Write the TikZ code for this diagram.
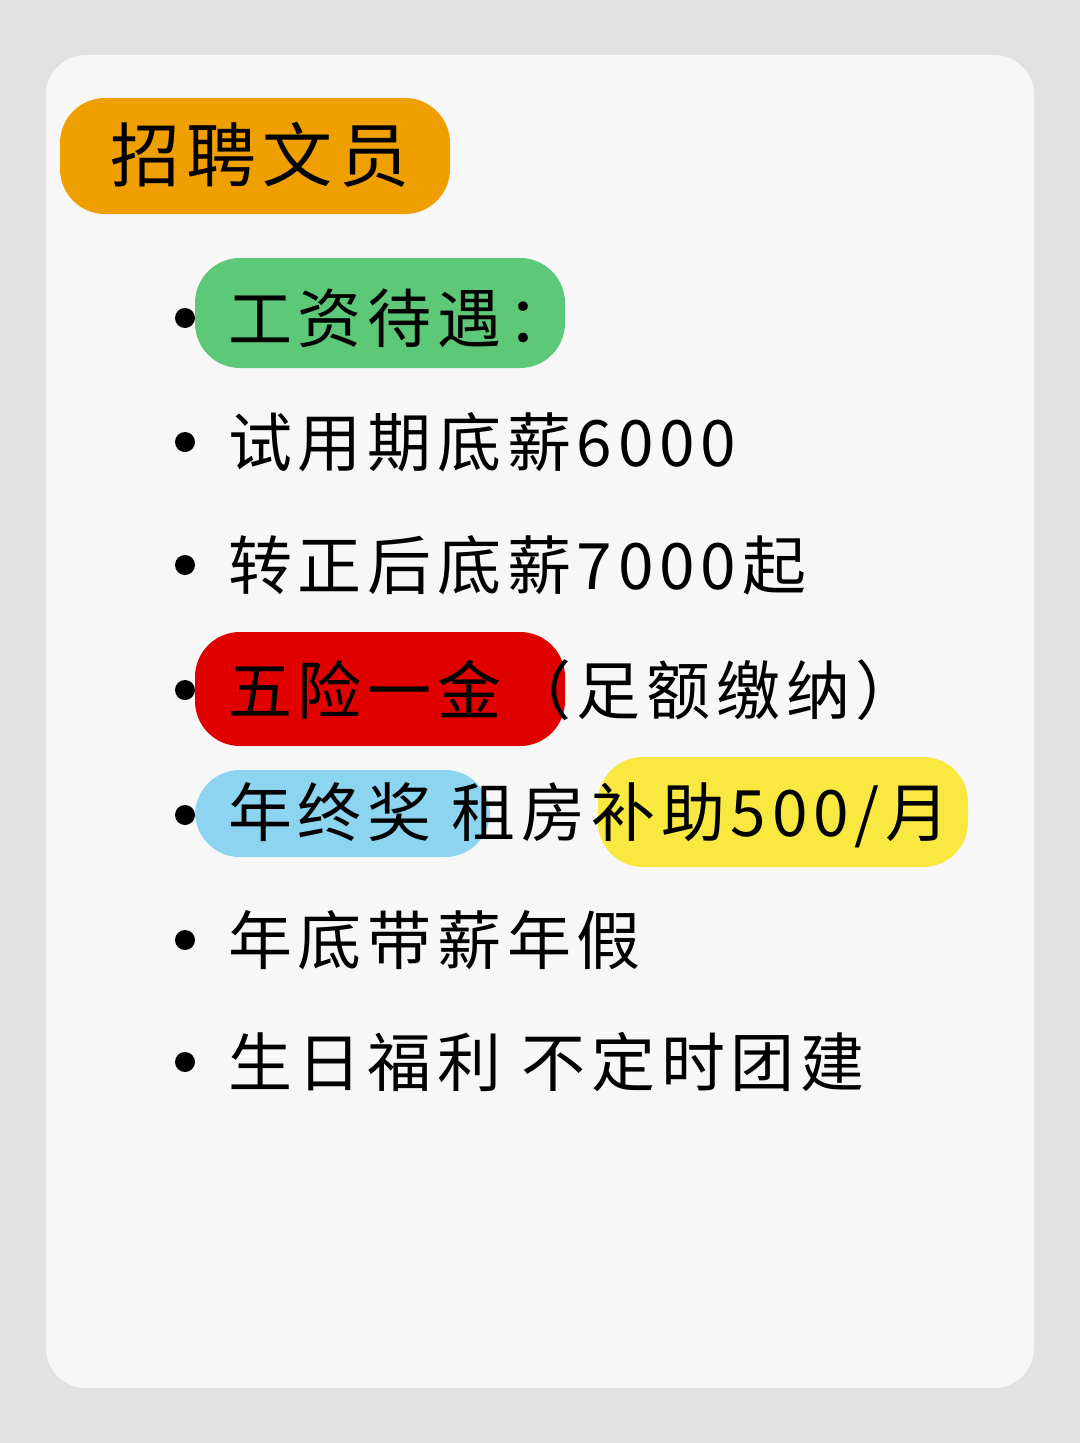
\documentclass[tikz,border=0pt]{standalone}
\usepackage{fontspec}
\setmainfont{Noto Sans CJK SC}[LetterSpace=9]
\definecolor{bg}{HTML}{E2E2E2}
\definecolor{card}{HTML}{F7F7F7}
\definecolor{hor}{HTML}{EFA000}
\definecolor{hgr}{HTML}{5DC878}
\definecolor{hrd}{HTML}{E00000}
\definecolor{hbl}{HTML}{8CD4F0}
\definecolor{hye}{HTML}{F8E840}
\tikzset{item/.style={anchor=west,inner sep=0pt,font=\fontsize{64}{64}\selectfont},
 blob/.style={rounded corners=45pt},
 dot/.style={circle,fill=black,minimum size=20pt,inner sep=0pt}}
\begin{document}
\begin{tikzpicture}[x=1pt,y=-1pt]
\fill[bg] (0,0) rectangle (1080,1443);
\useasboundingbox (0,0) rectangle (1080,1443);
\fill[card,rounded corners=40pt] (46,55) rectangle (1034,1388);
\fill[hor,blob] (60,98) rectangle (450,214);
\fill[hgr,blob] (195,258) rectangle (565,368);
\fill[hrd,blob] (195,632) rectangle (565,746);
\fill[hbl,blob] (195,770) rectangle (490,857);
\fill[hye,blob] (598,757) rectangle (968,867);
\node[anchor=west,inner sep=0pt,font=\fontsize{70}{70}\selectfont] (title) at (110,155) {招聘文员};
\foreach \y/\t [count=\i] in {318/{工资待遇：},442/{试用期底薪6000},565/{转正后底薪7000起},690/{五险一金（足额缴纳）},815/{年终奖 租房补助500/月},940/{年底带薪年假},1062/{生日福利 不定时团建}}{
 \node[dot] (d\i) at (185,\y) {};
 \node[item] (t\i) at (228,\y) {\t};
}
\end{tikzpicture}
\end{document}
